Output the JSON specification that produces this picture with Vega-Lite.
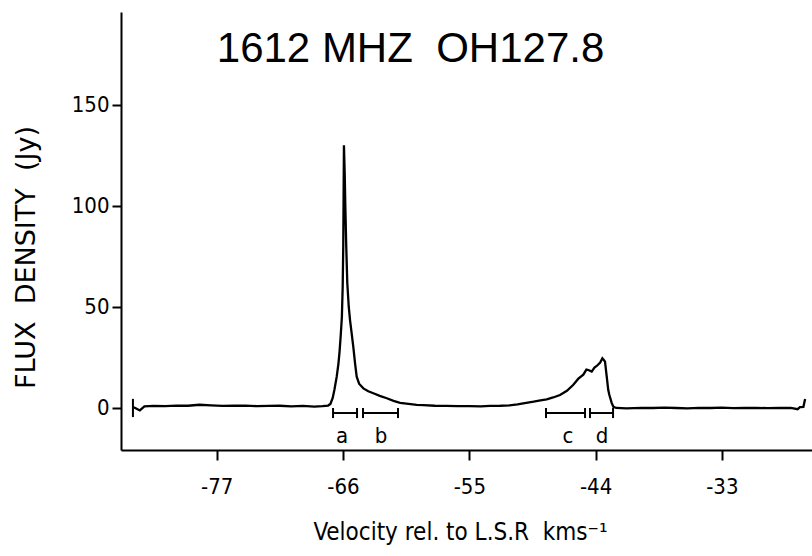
{
  "$schema": "https://vega.github.io/schema/vega-lite/v6.json",
  "width": 691,
  "height": 438,
  "autosize": {"type": "none"},
  "padding": {"left": 121, "top": 12, "right": 0, "bottom": 106},
  "background": "white",
  "config": {
    "view": {"stroke": null},
    "axis": {
      "grid": false,
      "domainColor": "black",
      "tickColor": "black",
      "labelColor": "black",
      "titleColor": "black",
      "labelFont": "DejaVu Sans Condensed",
      "titleFont": "DejaVu Sans Condensed",
      "labelFontSize": 22,
      "domainWidth": 2,
      "tickWidth": 2,
      "titleFontWeight": "normal"
    }
  },
  "datasets": {
    "spectrum": [
      {"velocity": -84.3, "flux": 0.5},
      {"velocity": -84.1, "flux": 0},
      {"velocity": -83.7, "flux": -1.2},
      {"velocity": -83.3, "flux": 0.8},
      {"velocity": -82.5, "flux": 1.0},
      {"velocity": -81.5, "flux": 0.9},
      {"velocity": -80.5, "flux": 1.2},
      {"velocity": -79.5, "flux": 1.1},
      {"velocity": -78.5, "flux": 1.6},
      {"velocity": -77.5, "flux": 1.3},
      {"velocity": -76.5, "flux": 1.0},
      {"velocity": -75.5, "flux": 1.1},
      {"velocity": -74.5, "flux": 1.2},
      {"velocity": -73.5, "flux": 0.9},
      {"velocity": -72.5, "flux": 1.0},
      {"velocity": -71.5, "flux": 1.1},
      {"velocity": -70.5, "flux": 0.8},
      {"velocity": -69.5, "flux": 1.0},
      {"velocity": -68.5, "flux": 0.7},
      {"velocity": -67.8, "flux": 0.9},
      {"velocity": -67.3, "flux": 1.2},
      {"velocity": -67.1, "flux": 2},
      {"velocity": -66.9, "flux": 5},
      {"velocity": -66.75, "flux": 9},
      {"velocity": -66.55, "flux": 15.5},
      {"velocity": -66.4, "flux": 22},
      {"velocity": -66.3, "flux": 28},
      {"velocity": -66.2, "flux": 36},
      {"velocity": -66.1, "flux": 45},
      {"velocity": -66.03, "flux": 60},
      {"velocity": -65.98, "flux": 80},
      {"velocity": -65.95, "flux": 105},
      {"velocity": -65.92, "flux": 130},
      {"velocity": -65.85, "flux": 115},
      {"velocity": -65.8, "flux": 100},
      {"velocity": -65.72, "flux": 80},
      {"velocity": -65.63, "flux": 62},
      {"velocity": -65.5, "flux": 50},
      {"velocity": -65.39, "flux": 43.5},
      {"velocity": -65.25, "flux": 37},
      {"velocity": -65.1, "flux": 30},
      {"velocity": -64.95, "flux": 22},
      {"velocity": -64.81, "flux": 15.5},
      {"velocity": -64.6, "flux": 12},
      {"velocity": -64.23, "flux": 9.7},
      {"velocity": -63.8, "flux": 8.3},
      {"velocity": -63.36, "flux": 7.3},
      {"velocity": -62.8, "flux": 6},
      {"velocity": -62.19, "flux": 4.8},
      {"velocity": -61.6, "flux": 3.5},
      {"velocity": -61.03, "flux": 2.5},
      {"velocity": -60.3, "flux": 2},
      {"velocity": -59.58, "flux": 1.5},
      {"velocity": -59.0, "flux": 1.4},
      {"velocity": -58.0, "flux": 1.1},
      {"velocity": -57.0, "flux": 1.0},
      {"velocity": -56.0, "flux": 0.9},
      {"velocity": -55.0, "flux": 0.9},
      {"velocity": -54.0, "flux": 0.8},
      {"velocity": -53.2, "flux": 1.0},
      {"velocity": -52.3, "flux": 1.1},
      {"velocity": -51.5, "flux": 1.3},
      {"velocity": -50.8, "flux": 1.8},
      {"velocity": -50.3, "flux": 2.3},
      {"velocity": -49.4, "flux": 3.1},
      {"velocity": -48.8, "flux": 3.8},
      {"velocity": -48.26, "flux": 4.3},
      {"velocity": -47.7, "flux": 5.2},
      {"velocity": -47.1, "flux": 6.4},
      {"velocity": -46.5, "flux": 8.5},
      {"velocity": -45.94, "flux": 11.5},
      {"velocity": -45.5, "flux": 14.5},
      {"velocity": -45.07, "flux": 16.5},
      {"velocity": -44.8, "flux": 19},
      {"velocity": -44.63, "flux": 18.8},
      {"velocity": -44.34, "flux": 18},
      {"velocity": -44.1, "flux": 20},
      {"velocity": -43.9, "flux": 20.8},
      {"velocity": -43.6, "flux": 22.5},
      {"velocity": -43.41, "flux": 24.6},
      {"velocity": -43.25, "flux": 23.5},
      {"velocity": -43.18, "flux": 22.9},
      {"velocity": -43.03, "flux": 15.5},
      {"velocity": -42.9, "flux": 9},
      {"velocity": -42.8, "flux": 6.4},
      {"velocity": -42.6, "flux": 2.5},
      {"velocity": -42.45, "flux": 0.6},
      {"velocity": -42.2, "flux": 0},
      {"velocity": -41.3, "flux": -0.2},
      {"velocity": -40.0, "flux": 0.1},
      {"velocity": -39.0, "flux": 0},
      {"velocity": -38.0, "flux": 0.2},
      {"velocity": -37.0, "flux": 0},
      {"velocity": -36.0, "flux": -0.2},
      {"velocity": -35.0, "flux": 0.1},
      {"velocity": -34.0, "flux": 0},
      {"velocity": -33.0, "flux": 0.2},
      {"velocity": -32.0, "flux": -0.1},
      {"velocity": -31.0, "flux": 0},
      {"velocity": -30.0, "flux": 0.1},
      {"velocity": -29.0, "flux": -0.1},
      {"velocity": -28.0, "flux": 0},
      {"velocity": -27.0, "flux": 0},
      {"velocity": -26.4, "flux": -0.6},
      {"velocity": -26.2, "flux": 0.4},
      {"velocity": -25.9, "flux": 0.5},
      {"velocity": -25.75, "flux": 4.5}
    ],
    "bars": [
      {"label": "a", "start": -66.87, "end": -64.78, "mid": -66.09},
      {"label": "b", "start": -64.26, "end": -61.21, "mid": -62.7},
      {"label": "c", "start": -48.32, "end": -44.92, "mid": -46.4},
      {"label": "d", "start": -44.49, "end": -42.48, "mid": -43.44}
    ],
    "cap": [{"velocity": -84.3}]
  },
  "layer": [
    {
      "data": {"name": "spectrum"},
      "mark": {"type": "line", "color": "black", "strokeWidth": 2.3, "clip": true},
      "encoding": {
        "x": {
          "field": "velocity",
          "type": "quantitative",
          "scale": {"domain": [-85.34, -25.15], "nice": false, "zero": false},
          "axis": {
            "values": [-77, -66, -55, -44, -33],
            "labelExpr": "'-' + abs(datum.value)",
            "tickSize": 10,
            "labelPadding": 16,
            "title": "Velocity rel. to L.S.R\u00a0 kms⁻¹",
            "titleFontSize": 24,
            "titleX": 339,
            "titleY": 82,
            "titleBaseline": "middle"
          }
        },
        "y": {
          "field": "flux",
          "type": "quantitative",
          "scale": {"domain": [-20.8, 196], "nice": false, "zero": false},
          "axis": {
            "values": [0, 50, 100, 150],
            "tickSize": 9,
            "labelPadding": 3,
            "title": "FLUX\u00a0 DENSITY\u00a0 (Jy)",
            "titleFont": "DejaVu Sans",
            "titleFontSize": 27,
            "titleAngle": -90,
            "titleX": -95,
            "titleY": 245,
            "titleAlign": "center",
            "titleBaseline": "middle"
          }
        }
      }
    },
    {
      "data": {"name": "cap"},
      "mark": {"type": "rule", "color": "black", "strokeWidth": 2},
      "encoding": {
        "x": {"field": "velocity", "type": "quantitative"},
        "y": {"datum": -4.5},
        "y2": {"datum": 4.5}
      }
    },
    {
      "data": {"name": "bars"},
      "mark": {"type": "rule", "color": "black", "strokeWidth": 2},
      "encoding": {
        "x": {"field": "start", "type": "quantitative"},
        "x2": {"field": "end"},
        "y": {"datum": -2.5}
      }
    },
    {
      "data": {"name": "bars"},
      "mark": {"type": "rule", "color": "black", "strokeWidth": 2},
      "encoding": {
        "x": {"field": "start", "type": "quantitative"},
        "y": {"datum": -5},
        "y2": {"datum": 0}
      }
    },
    {
      "data": {"name": "bars"},
      "mark": {"type": "rule", "color": "black", "strokeWidth": 2},
      "encoding": {
        "x": {"field": "end", "type": "quantitative"},
        "y": {"datum": -5},
        "y2": {"datum": 0}
      }
    },
    {
      "data": {"name": "bars"},
      "mark": {"type": "text", "color": "black", "font": "DejaVu Sans Condensed", "fontSize": 22, "baseline": "middle", "align": "center"},
      "encoding": {
        "x": {"field": "mid", "type": "quantitative"},
        "y": {"datum": -13.9},
        "text": {"field": "label"}
      }
    },
    {
      "data": {"values": [{"title": "1612 MHZ\u00a0 OH127.8"}]},
      "mark": {"type": "text", "color": "black", "font": "Liberation Sans", "fontSize": 42, "baseline": "alphabetic", "align": "center"},
      "encoding": {
        "x": {"datum": -60.12},
        "y": {"datum": 171.3},
        "text": {"field": "title"}
      }
    }
  ]
}
